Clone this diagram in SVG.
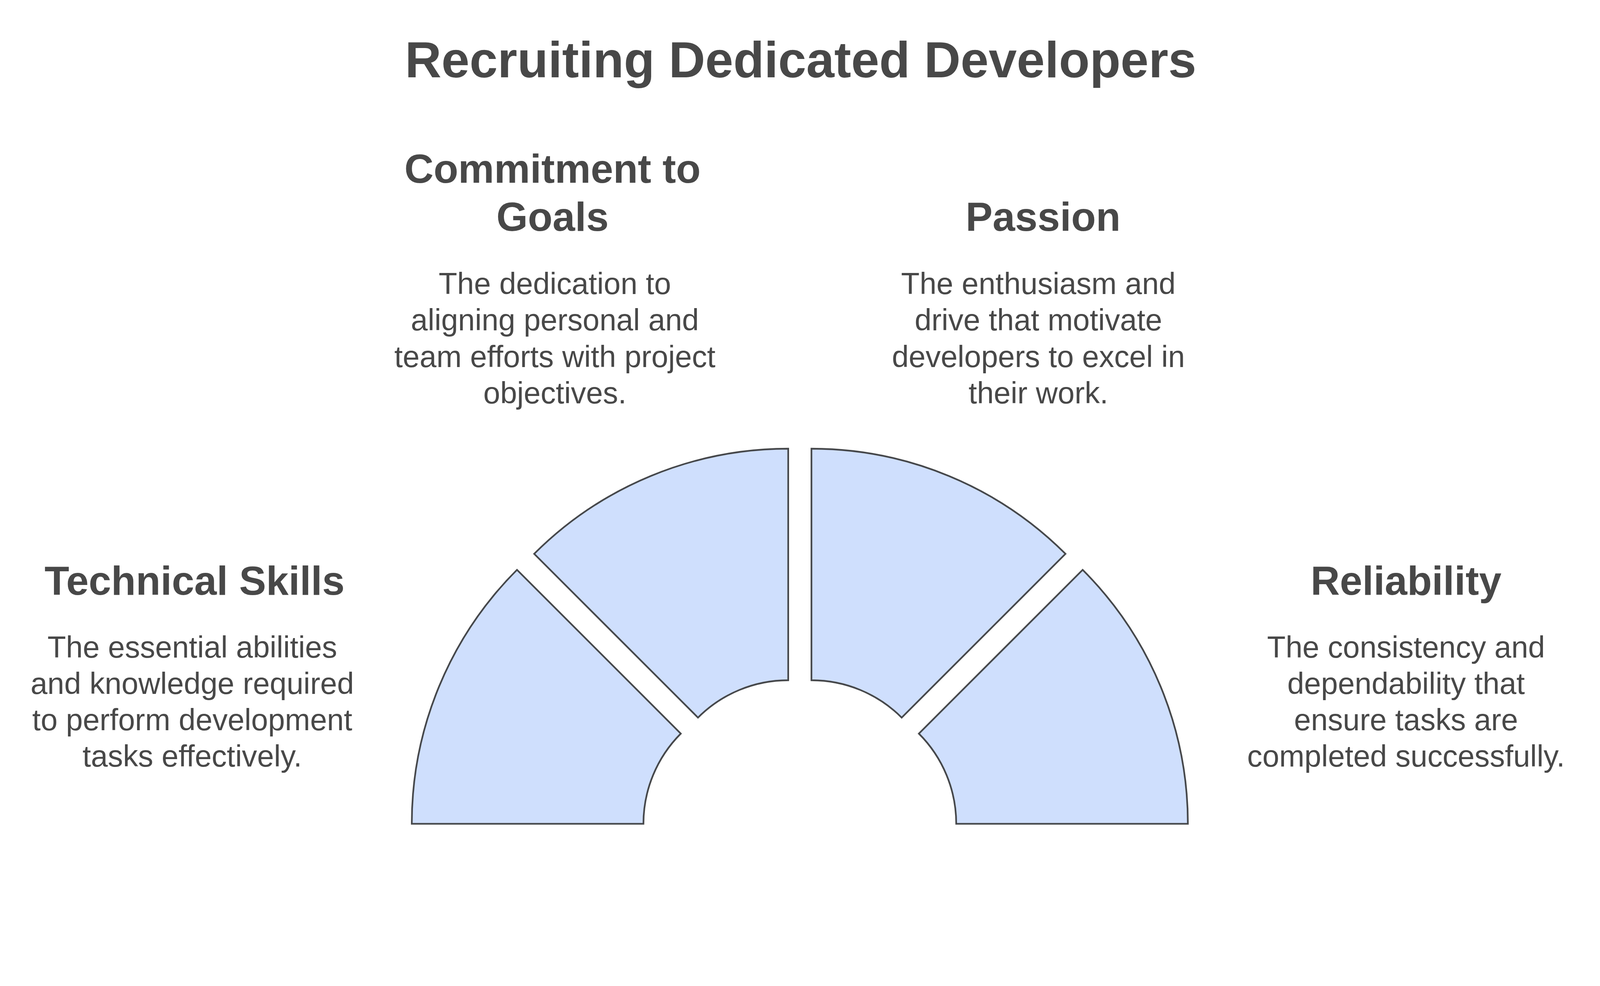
<svg xmlns="http://www.w3.org/2000/svg" width="4752" height="2525" viewBox="0 0 4752 2525" preserveAspectRatio="xMidYMin meet">
<style>
svg{width:100vw;height:100vh;display:block}
.bg{fill:#ffffff}
.seg{fill:#cfdffd;stroke:#46484b;stroke-width:5;stroke-linejoin:miter}
.title{font-family:"Liberation Sans",Arial,sans-serif;font-weight:bold;font-size:150px;fill:#484848;text-anchor:middle}
.head{font-family:"Liberation Sans",Arial,sans-serif;font-weight:bold;font-size:120px;fill:#484848;text-anchor:middle}
.desc{font-family:"Liberation Sans",Arial,sans-serif;font-size:90px;fill:#484848;text-anchor:middle}
</style>
<rect class="bg" x="0" y="0" width="4752" height="2525"/>
<text id="title" class="title" x="2378" y="230">Recruiting Dedicated Developers</text>
<g id="connectors"></g>
<g id="technical-skills">
<path class="seg" d="M1223,2447.5 A1067,1067 0 0 1 1535.5,1693 L2022,2179.5 A379,379 0 0 0 1911,2447.5 Z"/>
<text class="head" x="578" y="1767">Technical Skills</text>
<text class="desc" x="571" y="1954">The essential abilities</text>
<text class="desc" x="571" y="2062">and knowledge required</text>
<text class="desc" x="571" y="2170">to perform development</text>
<text class="desc" x="571" y="2277">tasks effectively.</text>
</g>
<g id="commitment-to-goals">
<path class="seg" d="M1586.5,1645.5 A1067,1067 0 0 1 2341,1333 L2341,2021 A379,379 0 0 0 2073,2132 Z"/>
<text class="head" x="1641" y="543">Commitment to</text>
<text class="head" x="1641" y="686">Goals</text>
<text class="desc" x="1648" y="874">The dedication to</text>
<text class="desc" x="1648" y="982">aligning personal and</text>
<text class="desc" x="1648" y="1090">team efforts with project</text>
<text class="desc" x="1648" y="1198">objectives.</text>
</g>
<g id="passion">
<path class="seg" d="M2410,1333 A1067,1067 0 0 1 3164.5,1645.5 L2678,2132 A379,379 0 0 0 2410,2021 Z"/>
<text class="head" x="3098" y="686">Passion</text>
<text class="desc" x="3084" y="874">The enthusiasm and</text>
<text class="desc" x="3084" y="982">drive that motivate</text>
<text class="desc" x="3084" y="1090">developers to excel in</text>
<text class="desc" x="3084" y="1198">their work.</text>
</g>
<g id="reliability">
<path class="seg" d="M3215.5,1693 A1067,1067 0 0 1 3528,2447.5 L2840,2447.5 A379,379 0 0 0 2729,2179.5 Z"/>
<text class="head" x="4176" y="1767">Reliability</text>
<text class="desc" x="4176" y="1954">The consistency and</text>
<text class="desc" x="4176" y="2062">dependability that</text>
<text class="desc" x="4176" y="2170">ensure tasks are</text>
<text class="desc" x="4176" y="2277">completed successfully.</text>
</g>
</svg>
